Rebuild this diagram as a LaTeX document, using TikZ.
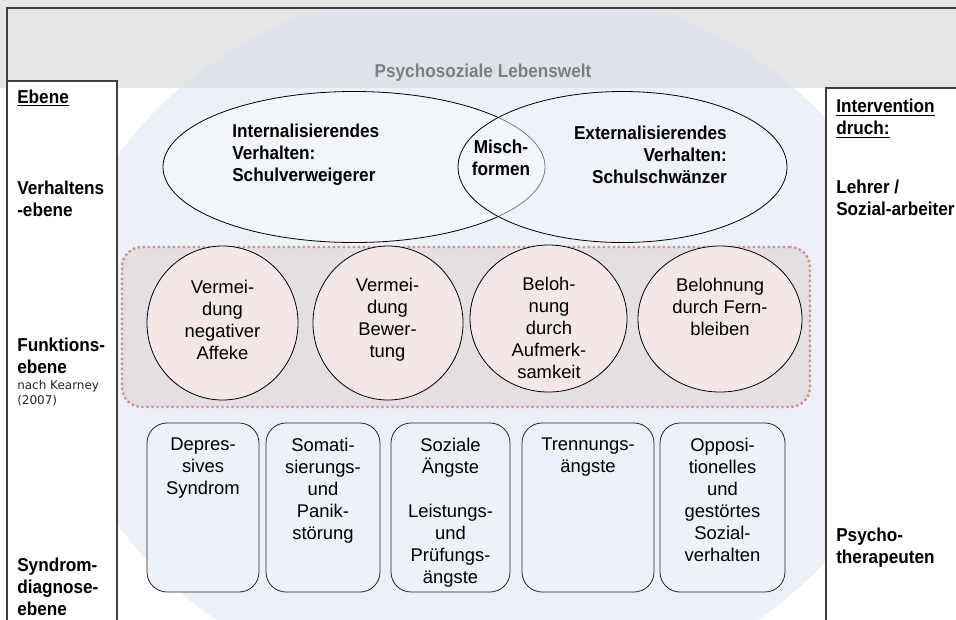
\documentclass[tikz,border=0pt]{standalone}
\usepackage{fontspec}
\setmainfont{Liberation Sans}
\newfontfamily\heavyfont{Liberation Sans}[UprightFont={* Bold}, FakeStretch=0.92]
\newfontfamily\notefont{DejaVu Sans}
\usepackage{tikz}
\usetikzlibrary{positioning}
\usetikzlibrary{shapes.geometric}
\usetikzlibrary{fit}
\usepackage{xcolor}
\definecolor{bandgray}{HTML}{E6E6E6}
\definecolor{lifeblue}{HTML}{D6DFED}
\definecolor{framegray}{HTML}{404040}
\definecolor{ovalfill}{HTML}{F2F5F9}
\definecolor{funcfill}{HTML}{E4DFE2}
\definecolor{funcdot}{HTML}{D4918A}
\definecolor{circfill}{HTML}{F4E8E7}
\definecolor{labelgray}{HTML}{7F7F7F}
\definecolor{synfill}{HTML}{EDF1F8}

\begin{document}
\begin{tikzpicture}[
  x=0.75pt, y=-0.75pt,
  font=\fontsize{13.8}{16.5}\selectfont,
  frameline/.style={draw=framegray, line width=0.8pt},
  column/.style={fill=white, draw=framegray, line width=0.8pt, inner sep=0pt},
  levellabel/.style={font=\heavyfont\fontsize{14}{16.5}\selectfont, align=left, anchor=west, inner sep=0pt},
  notelabel/.style={font=\notefont\fontsize{9}{11.2}\selectfont, text=black!85, align=left, anchor=west, inner sep=0pt},
  oval/.style={ellipse, draw=black, line width=0.6pt, fill=ovalfill, inner sep=0pt},
  funcbox/.style={draw=funcdot, line width=1.8pt, dash pattern=on 1.8pt off 1.95pt, fill=funcfill, rounded corners=15pt, inner sep=0pt},
  funcoval/.style={ellipse, draw=black, line width=0.6pt, fill=circfill, inner sep=0pt},
  functext/.style={align=center, inner sep=0pt},
  synbox/.style={draw=black!85, line width=0.6pt, rounded corners=15pt, fill=synfill, inner sep=0pt},
  syntext/.style={align=center, inner sep=0pt}
]
\useasboundingbox (0,0) rectangle (956,619);

% background and life world
\fill[bandgray] (0,0) rectangle (956,88);
\fill[white] (0,88) rectangle (956,619);
\begin{scope}
  \clip (7,8) rectangle (956,619);
  \fill[lifeblue, fill opacity=0.44] (487,340) ellipse [x radius=430, y radius=360];
\end{scope}
\draw[frameline] (7,625) -- (7,8) -- (962,8);
\node[font=\heavyfont\fontsize{14}{16.5}\selectfont, text=labelgray] (lebenswelt) at (483,73) {Psychosoziale Lebenswelt};

% side columns
\node[column, fit={(7,81) (117,625)}] (levelcol) {};
\node[column, fit={(826,88) (962,625)}] (actcol) {};

\node[levellabel] (ebene) at (17,98) {\underline{Ebene}};
\node[levellabel] (verhalten) at (17,199) {Verhaltens\\-ebene};
\node[levellabel] (funktion) at (17,356) {Funktions-\\ebene};
\node[notelabel] (kearney) at (17,393.5) {nach Kearney\\(2007)};
\node[levellabel] (syndrom) at (17,587) {Syndrom-\\diagnose-\\ebene};

\node[levellabel] (intervention) at (836,118.5) {\underline{Intervention}\\\underline{druch:}};
\node[levellabel] (lehrer) at (836,197.5) {Lehrer /\\Sozial-arbeiter};
\node[levellabel] (psycho) at (836,547.5) {Psycho-\\therapeuten};

% behaviour level
\node[oval, minimum width=286.5pt, minimum height=113.25pt] (intern) at (354,167) {};
\node[oval, fill opacity=0.5, minimum width=246.75pt, minimum height=113.25pt] (extern) at (622.5,167) {};
\node[levellabel] (interntext) at (232,154.5) {Internalisierendes\\Verhalten:\\Schulverweigerer};
\node[levellabel, anchor=east, align=right] (externtext) at (727,155) {Externalisierendes\\Verhalten:\\Schulschwänzer};
\node[levellabel, anchor=center, align=center] (mischtext) at (501,158) {Misch-\\formen};

% function level
\node[funcbox, fit={(122,247) (810,407)}] (funcarea) {};
\node[funcoval, minimum width=113.25pt, minimum height=115.5pt] (affekt) at (222.5,323) {};
\node[funcoval, minimum width=112.5pt, minimum height=115.5pt] (bewertung) at (388,323) {};
\node[funcoval, minimum width=117.75pt, minimum height=110.25pt] (aufmerk) at (548.5,318.5) {};
\node[funcoval, minimum width=123pt, minimum height=109.5pt] (fern) at (720,319) {};
\node[functext] (affekttext) at (222.5,320) {Vermei-\\dung\\negativer\\Affeke};
\node[functext] (bewertungtext) at (387.5,320) {Vermei-\\dung\\Bewer-\\tung};
\node[functext] (aufmerktext) at (549,328) {Beloh-\\nung\\durch\\Aufmerk-\\samkeit};
\node[functext] (ferntext) at (720,307) {Belohnung\\durch Fern-\\bleiben};

% syndrome level
\node[synbox, fit={(147,423) (259,592)}] (depbox) {};
\node[synbox, fit={(266,423) (380,592)}] (somabox) {};
\node[synbox, fit={(391,423) (510,592)}] (angstbox) {};
\node[synbox, fit={(522,423) (654,592)}] (trennbox) {};
\node[synbox, fit={(660,423) (785,592)}] (oppbox) {};
\node[syntext, below=11.25pt of depbox.north] (deptext) {Depres-\\sives\\Syndrom};
\node[syntext, below=11.25pt of somabox.north] (somatext) {Somati-\\sierungs-\\und\\Panik-\\störung};
\node[syntext, below=11.25pt of angstbox.north] (angsttext) {Soziale\\Ängste\\[16.5pt]Leistungs-\\und\\Prüfungs-\\ängste};
\node[syntext, below=11.25pt of trennbox.north] (trenntext) {Trennungs-\\ängste};
\node[syntext, below=11.25pt of oppbox.north] (opptext) {Opposi-\\tionelles\\und\\gestörtes\\Sozial-\\verhalten};
\end{tikzpicture}
\end{document}
